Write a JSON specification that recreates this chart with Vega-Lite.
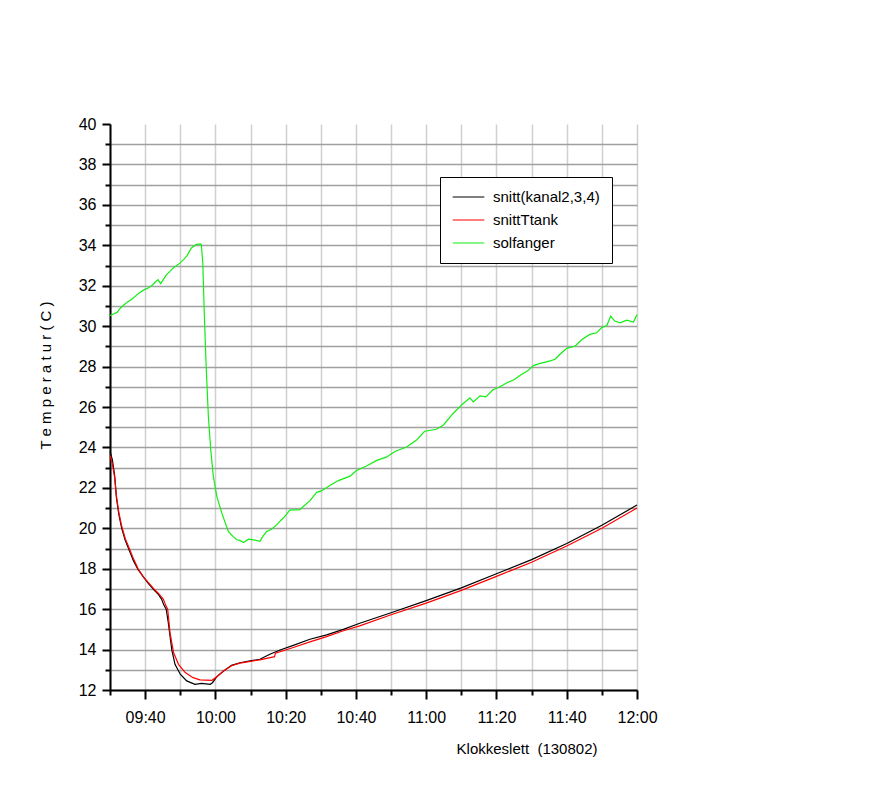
{
  "$schema": "https://vega.github.io/schema/vega-lite/v6.json",
  "width": 527,
  "height": 566,
  "autosize": {"type": "none"},
  "padding": {"left": 110, "top": 124, "right": 237, "bottom": 115},
  "background": "white",
  "config": {"view": {"stroke": null}, "font": "Liberation Sans"},
  "datasets": {
    "series": [
      {"s": "snitt(kanal2,3,4)", "t": "09:30:00", "v": 23.8},
      {"s": "snitt(kanal2,3,4)", "t": "09:30:40", "v": 23.4},
      {"s": "snitt(kanal2,3,4)", "t": "09:31:20", "v": 22.6},
      {"s": "snitt(kanal2,3,4)", "t": "09:31:50", "v": 21.5},
      {"s": "snitt(kanal2,3,4)", "t": "09:32:30", "v": 20.7},
      {"s": "snitt(kanal2,3,4)", "t": "09:33:20", "v": 20.0},
      {"s": "snitt(kanal2,3,4)", "t": "09:34:20", "v": 19.4},
      {"s": "snitt(kanal2,3,4)", "t": "09:35:30", "v": 18.9},
      {"s": "snitt(kanal2,3,4)", "t": "09:36:40", "v": 18.4},
      {"s": "snitt(kanal2,3,4)", "t": "09:38:00", "v": 17.95},
      {"s": "snitt(kanal2,3,4)", "t": "09:39:30", "v": 17.6},
      {"s": "snitt(kanal2,3,4)", "t": "09:41:00", "v": 17.25},
      {"s": "snitt(kanal2,3,4)", "t": "09:42:30", "v": 16.95},
      {"s": "snitt(kanal2,3,4)", "t": "09:43:40", "v": 16.75},
      {"s": "snitt(kanal2,3,4)", "t": "09:44:40", "v": 16.5},
      {"s": "snitt(kanal2,3,4)", "t": "09:45:20", "v": 16.2},
      {"s": "snitt(kanal2,3,4)", "t": "09:46:00", "v": 16.0},
      {"s": "snitt(kanal2,3,4)", "t": "09:46:35", "v": 15.34},
      {"s": "snitt(kanal2,3,4)", "t": "09:47:35", "v": 14.0},
      {"s": "snitt(kanal2,3,4)", "t": "09:48:30", "v": 13.27},
      {"s": "snitt(kanal2,3,4)", "t": "09:50:00", "v": 12.78},
      {"s": "snitt(kanal2,3,4)", "t": "09:51:50", "v": 12.45},
      {"s": "snitt(kanal2,3,4)", "t": "09:54:10", "v": 12.28},
      {"s": "snitt(kanal2,3,4)", "t": "09:56:05", "v": 12.33},
      {"s": "snitt(kanal2,3,4)", "t": "09:58:30", "v": 12.28},
      {"s": "snitt(kanal2,3,4)", "t": "09:59:10", "v": 12.36},
      {"s": "snitt(kanal2,3,4)", "t": "10:00:25", "v": 12.66},
      {"s": "snitt(kanal2,3,4)", "t": "10:02:20", "v": 12.94},
      {"s": "snitt(kanal2,3,4)", "t": "10:04:35", "v": 13.22},
      {"s": "snitt(kanal2,3,4)", "t": "10:07:00", "v": 13.35},
      {"s": "snitt(kanal2,3,4)", "t": "10:09:55", "v": 13.44},
      {"s": "snitt(kanal2,3,4)", "t": "10:12:40", "v": 13.52},
      {"s": "snitt(kanal2,3,4)", "t": "10:15:30", "v": 13.77},
      {"s": "snitt(kanal2,3,4)", "t": "10:18:25", "v": 13.98},
      {"s": "snitt(kanal2,3,4)", "t": "10:22:10", "v": 14.21},
      {"s": "snitt(kanal2,3,4)", "t": "10:26:55", "v": 14.51},
      {"s": "snitt(kanal2,3,4)", "t": "10:31:40", "v": 14.73},
      {"s": "snitt(kanal2,3,4)", "t": "10:36:25", "v": 15.0},
      {"s": "snitt(kanal2,3,4)", "t": "10:41:05", "v": 15.3},
      {"s": "snitt(kanal2,3,4)", "t": "10:50:00", "v": 15.82},
      {"s": "snitt(kanal2,3,4)", "t": "11:00:00", "v": 16.42},
      {"s": "snitt(kanal2,3,4)", "t": "11:10:00", "v": 17.05},
      {"s": "snitt(kanal2,3,4)", "t": "11:20:00", "v": 17.75},
      {"s": "snitt(kanal2,3,4)", "t": "11:30:00", "v": 18.45},
      {"s": "snitt(kanal2,3,4)", "t": "11:40:00", "v": 19.25},
      {"s": "snitt(kanal2,3,4)", "t": "11:50:00", "v": 20.15},
      {"s": "snitt(kanal2,3,4)", "t": "12:00:00", "v": 21.15},
      {"s": "snittTtank", "t": "09:30:00", "v": 23.6},
      {"s": "snittTtank", "t": "09:30:40", "v": 23.2},
      {"s": "snittTtank", "t": "09:31:20", "v": 22.5},
      {"s": "snittTtank", "t": "09:31:50", "v": 21.6},
      {"s": "snittTtank", "t": "09:32:30", "v": 20.8},
      {"s": "snittTtank", "t": "09:33:20", "v": 20.1},
      {"s": "snittTtank", "t": "09:34:20", "v": 19.5},
      {"s": "snittTtank", "t": "09:35:30", "v": 19.0},
      {"s": "snittTtank", "t": "09:36:40", "v": 18.5},
      {"s": "snittTtank", "t": "09:38:00", "v": 18.0},
      {"s": "snittTtank", "t": "09:39:30", "v": 17.6},
      {"s": "snittTtank", "t": "09:41:00", "v": 17.3},
      {"s": "snittTtank", "t": "09:42:30", "v": 17.0},
      {"s": "snittTtank", "t": "09:43:40", "v": 16.8},
      {"s": "snittTtank", "t": "09:45:10", "v": 16.5},
      {"s": "snittTtank", "t": "09:45:50", "v": 16.2},
      {"s": "snittTtank", "t": "09:46:25", "v": 16.0},
      {"s": "snittTtank", "t": "09:47:05", "v": 14.84},
      {"s": "snittTtank", "t": "09:48:05", "v": 13.85},
      {"s": "snittTtank", "t": "09:49:30", "v": 13.27},
      {"s": "snittTtank", "t": "09:51:25", "v": 12.86},
      {"s": "snittTtank", "t": "09:53:40", "v": 12.61},
      {"s": "snittTtank", "t": "09:55:35", "v": 12.5},
      {"s": "snittTtank", "t": "09:59:00", "v": 12.48},
      {"s": "snittTtank", "t": "10:00:25", "v": 12.66},
      {"s": "snittTtank", "t": "10:02:20", "v": 12.94},
      {"s": "snittTtank", "t": "10:04:35", "v": 13.2},
      {"s": "snittTtank", "t": "10:07:00", "v": 13.33},
      {"s": "snittTtank", "t": "10:09:55", "v": 13.42},
      {"s": "snittTtank", "t": "10:12:40", "v": 13.49},
      {"s": "snittTtank", "t": "10:16:50", "v": 13.65},
      {"s": "snittTtank", "t": "10:17:05", "v": 13.82},
      {"s": "snittTtank", "t": "10:22:10", "v": 14.1},
      {"s": "snittTtank", "t": "10:26:55", "v": 14.38},
      {"s": "snittTtank", "t": "10:31:40", "v": 14.64},
      {"s": "snittTtank", "t": "10:36:25", "v": 14.93},
      {"s": "snittTtank", "t": "10:41:05", "v": 15.17},
      {"s": "snittTtank", "t": "10:50:00", "v": 15.72},
      {"s": "snittTtank", "t": "11:00:00", "v": 16.3},
      {"s": "snittTtank", "t": "11:10:00", "v": 16.93},
      {"s": "snittTtank", "t": "11:20:00", "v": 17.62},
      {"s": "snittTtank", "t": "11:30:00", "v": 18.32},
      {"s": "snittTtank", "t": "11:40:00", "v": 19.12},
      {"s": "snittTtank", "t": "11:50:00", "v": 20.0},
      {"s": "snittTtank", "t": "12:00:00", "v": 21.0},
      {"s": "solfanger", "t": "09:30:00", "v": 30.52},
      {"s": "solfanger", "t": "09:31:00", "v": 30.6},
      {"s": "solfanger", "t": "09:32:00", "v": 30.68},
      {"s": "solfanger", "t": "09:33:00", "v": 30.9},
      {"s": "solfanger", "t": "09:34:00", "v": 31.06},
      {"s": "solfanger", "t": "09:35:00", "v": 31.2},
      {"s": "solfanger", "t": "09:36:00", "v": 31.31},
      {"s": "solfanger", "t": "09:37:00", "v": 31.45},
      {"s": "solfanger", "t": "09:38:00", "v": 31.6},
      {"s": "solfanger", "t": "09:39:00", "v": 31.72},
      {"s": "solfanger", "t": "09:40:00", "v": 31.82},
      {"s": "solfanger", "t": "09:41:00", "v": 31.9},
      {"s": "solfanger", "t": "09:42:00", "v": 32.02},
      {"s": "solfanger", "t": "09:42:50", "v": 32.17},
      {"s": "solfanger", "t": "09:43:40", "v": 32.3},
      {"s": "solfanger", "t": "09:44:25", "v": 32.1},
      {"s": "solfanger", "t": "09:45:10", "v": 32.3},
      {"s": "solfanger", "t": "09:46:05", "v": 32.55},
      {"s": "solfanger", "t": "09:47:00", "v": 32.7},
      {"s": "solfanger", "t": "09:48:00", "v": 32.88},
      {"s": "solfanger", "t": "09:49:00", "v": 33.0},
      {"s": "solfanger", "t": "09:50:00", "v": 33.13},
      {"s": "solfanger", "t": "09:51:00", "v": 33.3},
      {"s": "solfanger", "t": "09:52:00", "v": 33.5},
      {"s": "solfanger", "t": "09:53:10", "v": 33.87},
      {"s": "solfanger", "t": "09:54:30", "v": 34.03},
      {"s": "solfanger", "t": "09:55:40", "v": 34.07},
      {"s": "solfanger", "t": "09:56:00", "v": 34.03},
      {"s": "solfanger", "t": "09:56:25", "v": 33.1},
      {"s": "solfanger", "t": "09:56:50", "v": 30.65},
      {"s": "solfanger", "t": "09:57:20", "v": 28.18},
      {"s": "solfanger", "t": "09:58:00", "v": 25.53},
      {"s": "solfanger", "t": "09:58:40", "v": 23.9},
      {"s": "solfanger", "t": "09:59:25", "v": 22.56},
      {"s": "solfanger", "t": "10:00:25", "v": 21.57},
      {"s": "solfanger", "t": "10:01:50", "v": 20.75},
      {"s": "solfanger", "t": "10:03:40", "v": 19.84},
      {"s": "solfanger", "t": "10:05:00", "v": 19.6},
      {"s": "solfanger", "t": "10:06:05", "v": 19.43},
      {"s": "solfanger", "t": "10:07:00", "v": 19.4},
      {"s": "solfanger", "t": "10:08:00", "v": 19.3},
      {"s": "solfanger", "t": "10:09:25", "v": 19.46},
      {"s": "solfanger", "t": "10:10:50", "v": 19.43},
      {"s": "solfanger", "t": "10:12:40", "v": 19.35},
      {"s": "solfanger", "t": "10:13:30", "v": 19.6},
      {"s": "solfanger", "t": "10:14:35", "v": 19.84},
      {"s": "solfanger", "t": "10:16:00", "v": 19.95},
      {"s": "solfanger", "t": "10:17:25", "v": 20.17},
      {"s": "solfanger", "t": "10:18:40", "v": 20.4},
      {"s": "solfanger", "t": "10:19:50", "v": 20.6},
      {"s": "solfanger", "t": "10:21:10", "v": 20.9},
      {"s": "solfanger", "t": "10:24:05", "v": 20.92},
      {"s": "solfanger", "t": "10:25:05", "v": 21.09},
      {"s": "solfanger", "t": "10:26:55", "v": 21.37},
      {"s": "solfanger", "t": "10:28:50", "v": 21.78},
      {"s": "solfanger", "t": "10:30:10", "v": 21.85},
      {"s": "solfanger", "t": "10:32:35", "v": 22.12},
      {"s": "solfanger", "t": "10:35:00", "v": 22.36},
      {"s": "solfanger", "t": "10:38:20", "v": 22.58},
      {"s": "solfanger", "t": "10:40:10", "v": 22.86},
      {"s": "solfanger", "t": "10:43:00", "v": 23.08},
      {"s": "solfanger", "t": "10:45:55", "v": 23.36},
      {"s": "solfanger", "t": "10:48:40", "v": 23.52},
      {"s": "solfanger", "t": "10:51:05", "v": 23.8},
      {"s": "solfanger", "t": "10:54:25", "v": 24.02},
      {"s": "solfanger", "t": "10:57:10", "v": 24.35},
      {"s": "solfanger", "t": "10:59:35", "v": 24.8},
      {"s": "solfanger", "t": "11:02:55", "v": 24.9},
      {"s": "solfanger", "t": "11:04:50", "v": 25.1},
      {"s": "solfanger", "t": "11:07:40", "v": 25.68},
      {"s": "solfanger", "t": "11:10:00", "v": 26.09},
      {"s": "solfanger", "t": "11:12:25", "v": 26.45},
      {"s": "solfanger", "t": "11:13:25", "v": 26.25},
      {"s": "solfanger", "t": "11:15:20", "v": 26.55},
      {"s": "solfanger", "t": "11:17:00", "v": 26.5},
      {"s": "solfanger", "t": "11:19:00", "v": 26.85},
      {"s": "solfanger", "t": "11:21:00", "v": 27.0},
      {"s": "solfanger", "t": "11:23:00", "v": 27.2},
      {"s": "solfanger", "t": "11:25:00", "v": 27.35},
      {"s": "solfanger", "t": "11:27:00", "v": 27.6},
      {"s": "solfanger", "t": "11:29:00", "v": 27.8},
      {"s": "solfanger", "t": "11:30:30", "v": 28.05},
      {"s": "solfanger", "t": "11:32:25", "v": 28.16},
      {"s": "solfanger", "t": "11:35:20", "v": 28.28},
      {"s": "solfanger", "t": "11:36:40", "v": 28.36},
      {"s": "solfanger", "t": "11:38:05", "v": 28.61},
      {"s": "solfanger", "t": "11:40:00", "v": 28.9},
      {"s": "solfanger", "t": "11:42:25", "v": 29.02},
      {"s": "solfanger", "t": "11:44:20", "v": 29.34},
      {"s": "solfanger", "t": "11:46:35", "v": 29.59},
      {"s": "solfanger", "t": "11:48:30", "v": 29.67},
      {"s": "solfanger", "t": "11:49:55", "v": 29.92},
      {"s": "solfanger", "t": "11:51:25", "v": 30.03},
      {"s": "solfanger", "t": "11:52:30", "v": 30.49},
      {"s": "solfanger", "t": "11:53:40", "v": 30.25},
      {"s": "solfanger", "t": "11:55:10", "v": 30.16},
      {"s": "solfanger", "t": "11:57:05", "v": 30.3},
      {"s": "solfanger", "t": "11:59:00", "v": 30.2},
      {"s": "solfanger", "t": "12:00:00", "v": 30.57}
    ]
  },
  "data": {"name": "series", "format": {"parse": {"t": "date:'%H:%M:%S'"}}},
  "mark": {"type": "line", "strokeWidth": 1.2},
  "encoding": {
    "x": {
      "field": "t",
      "type": "temporal",
      "scale": {
        "domain": [
          {"year": 1900, "month": 1, "date": 1, "hours": 9, "minutes": 30},
          {"year": 1900, "month": 1, "date": 1, "hours": 12, "minutes": 0}
        ],
        "nice": false
      },
      "axis": {
        "values": [
          {"year": 1900, "month": 1, "date": 1, "hours": 9, "minutes": 30},
          {"year": 1900, "month": 1, "date": 1, "hours": 9, "minutes": 40},
          {"year": 1900, "month": 1, "date": 1, "hours": 9, "minutes": 50},
          {"year": 1900, "month": 1, "date": 1, "hours": 10, "minutes": 0},
          {"year": 1900, "month": 1, "date": 1, "hours": 10, "minutes": 10},
          {"year": 1900, "month": 1, "date": 1, "hours": 10, "minutes": 20},
          {"year": 1900, "month": 1, "date": 1, "hours": 10, "minutes": 30},
          {"year": 1900, "month": 1, "date": 1, "hours": 10, "minutes": 40},
          {"year": 1900, "month": 1, "date": 1, "hours": 10, "minutes": 50},
          {"year": 1900, "month": 1, "date": 1, "hours": 11, "minutes": 0},
          {"year": 1900, "month": 1, "date": 1, "hours": 11, "minutes": 10},
          {"year": 1900, "month": 1, "date": 1, "hours": 11, "minutes": 20},
          {"year": 1900, "month": 1, "date": 1, "hours": 11, "minutes": 30},
          {"year": 1900, "month": 1, "date": 1, "hours": 11, "minutes": 40},
          {"year": 1900, "month": 1, "date": 1, "hours": 11, "minutes": 50},
          {"year": 1900, "month": 1, "date": 1, "hours": 12, "minutes": 0}
        ],
        "labelExpr": "minutes(datum.value) % 20 == 0 ? timeFormat(datum.value, '%H:%M') : ''",
        "labelFontSize": 16,
        "labelColor": "#000000",
        "labelPadding": 10,
        "labelFlush": false,
        "labelOverlap": false,
        "tickSize": {"condition": {"test": "minutes(datum.value) % 20 == 0", "value": 9}, "value": 5},
        "tickColor": "#000000",
        "tickWidth": 2,
        "domainColor": "#000000",
        "domainWidth": 2,
        "grid": true,
        "gridColor": "#d0d0d0",
        "gridWidth": 1.5,
        "title": "Klokkeslett\u00a0 (130802)",
        "titleFontSize": 15,
        "titleFontWeight": "normal",
        "titleColor": "#000000",
        "titleAlign": "right",
        "titleBaseline": "alphabetic",
        "titleX": 487,
        "titleY": 63
      }
    },
    "y": {
      "field": "v",
      "type": "quantitative",
      "scale": {"domain": [12, 40], "nice": false, "zero": false},
      "axis": {
        "values": [12, 13, 14, 15, 16, 17, 18, 19, 20, 21, 22, 23, 24, 25, 26, 27, 28, 29, 30, 31, 32, 33, 34, 35, 36, 37, 38, 39, 40],
        "labelExpr": "datum.value % 2 == 0 ? datum.label : ''",
        "labelFontSize": 16,
        "labelColor": "#000000",
        "labelPadding": 6,
        "labelFlush": false,
        "labelOverlap": false,
        "tickSize": {"condition": {"test": "datum.value % 2 == 0", "value": 8}, "value": 5},
        "tickColor": "#000000",
        "tickWidth": 2,
        "domainColor": "#000000",
        "domainWidth": 2,
        "grid": true,
        "gridColor": "#a0a0a0",
        "gridWidth": 1.5,
        "gridOpacity": {"condition": {"test": "datum.value == 40", "value": 0}, "value": 1},
        "title": "T e m p e r a t u r ( C )",
        "titleFontSize": 15,
        "titleFontWeight": "normal",
        "titleColor": "#000000",
        "titleAngle": -90,
        "titleAlign": "center",
        "titleBaseline": "middle",
        "titleX": -65,
        "titleY": 251
      }
    },
    "color": {
      "field": "s",
      "type": "nominal",
      "scale": {
        "domain": ["snitt(kanal2,3,4)", "snittTtank", "solfanger"],
        "range": ["#000000", "#ff0000", "#11ee11"]
      },
      "legend": {
        "title": null,
        "orient": "none",
        "legendX": 330,
        "legendY": 53,
        "strokeColor": "#000000",
        "fillColor": "#ffffff",
        "padding": 12,
        "symbolType": "stroke",
        "symbolSize": 1000,
        "symbolStrokeWidth": 1.2,
        "clipHeight": 16,
        "rowPadding": 7,
        "labelOffset": 8,
        "labelFontSize": 15,
        "labelColor": "#000000",
        "labelLimit": 300
      }
    }
  }
}
